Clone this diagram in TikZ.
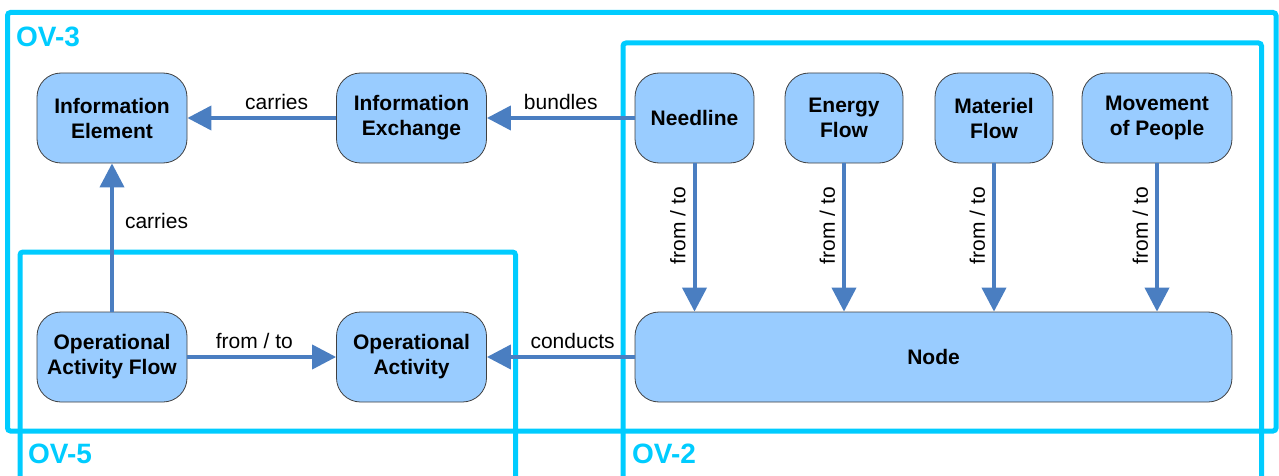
\documentclass[tikz,border=0pt]{standalone}
\usepackage{fontspec}
\setmainfont{Liberation Sans}
\usetikzlibrary{arrows.meta}
\definecolor{viewcyan}{RGB}{0,204,255}
\definecolor{boxblue}{RGB}{153,204,255}
\definecolor{linkblue}{RGB}{74,126,193}
\begin{document}
\begin{tikzpicture}[x=1pt,y=-1pt,
    block/.style={draw=black!75,line width=0.8pt,fill=boxblue,rounded corners=24pt,minimum width=150pt,minimum height=90pt,inner sep=0pt,align=center,font=\fontsize{21}{25}\selectfont\bfseries},
    link/.style={draw=linkblue,line width=4pt,-{Triangle[width=24pt,length=24pt]}},
    lbl/.style={font=\fontsize{21}{24}\selectfont,inner sep=3pt},
    view/.style={draw=viewcyan,line width=5pt,rounded corners=3pt},
    viewname/.style={text=viewcyan,inner sep=0pt,anchor=base west,font=\fontsize{28}{32}\selectfont\bfseries}]
        \useasboundingbox (0,0) rectangle (1279,476);
        % views
        \draw[view](7.5,12.5)rectangle(1276,431);
        \draw[view](623,480)--(623,43)--(1261.5,43)--(1261.5,480);
        \draw[view](20,480)--(20,252)--(515.5,252)--(515.5,480);
        \node[viewname] (ov3) at (16,47) {OV-3};
        \node[viewname] (ov5) at (28,463) {OV-5};
        \node[viewname] (ov2) at (632,463) {OV-2};
        % elements
        \node[block] (infoElem) at (112,118) {Information\\Element};
        \node[block] (infoExch) at (411.5,118) {Information\\Exchange};
        \node[block,minimum width=119pt] (needline) at (694.5,118) {Needline};
        \node[block,minimum width=118pt] (energy) at (844,118) {Energy\\Flow};
        \node[block,minimum width=118pt] (materiel) at (994,118) {Materiel\\Flow};
        \node[block] (people) at (1157,118) {Movement\\of People};
        \node[block] (opFlow) at (112,357) {Operational\\Activity Flow};
        \node[block] (opAct) at (411.5,357) {Operational\\Activity};
        \node[block,minimum width=597pt] (opNode) at (933.5,357) {Node};
        % relations
        \draw[link](infoExch)--(infoElem)node[lbl,pos=0.4,above=3pt]{carries};
        \draw[link](needline)--(infoExch)node[lbl,midway,above=3pt]{bundles};
        \draw[link](opFlow)--(infoElem)node[lbl,pos=0.61,right=8pt]{carries};
        \draw[link](opFlow)--(opAct)node[lbl,pos=0.45,above=3pt]{from / to};
        \draw[link](needline.west|-opNode)--(opAct)node[lbl,pos=0.42,above=3pt]{conducts};
        \foreach \src in {needline,energy,materiel,people}
            \draw[link](\src)--(\src|-opNode.north)node[lbl,pos=0.42,rotate=90,anchor=south,inner sep=7pt]{from / to};
\end{tikzpicture}
\end{document}
